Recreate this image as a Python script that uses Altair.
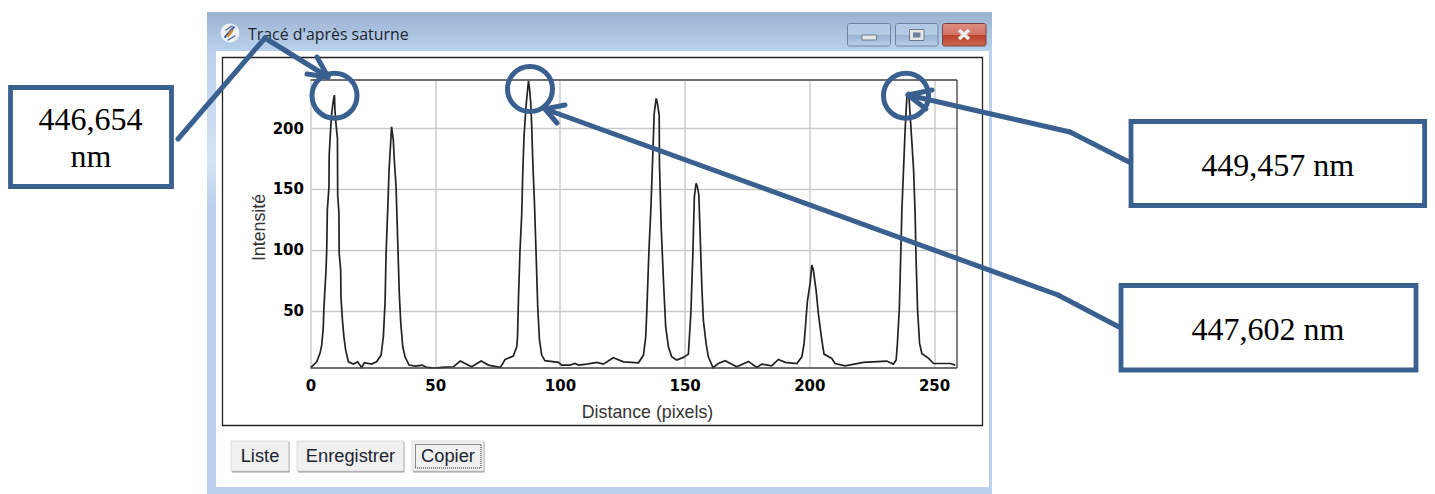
import altair as alt
import pandas as pd

dist = [0.2,2.5,3.8,4.5,5.1,5.4,5.8,6.2,6.5,6.75,7.4,7.5,8.2,8.5,9.2,9.6,9.8,10.2,10.8,10.9,11.4,11.5,12.1,12.2,12.8,13.4,14.1,15.2,17.2,18.9,20.5,21.6,24.5,26.5,28.3,29.2,29.9,30.3,31,31.5,32.2,32.5,33.2,33.6,34.3,35,35.6,36.2,37,37.9,39.5,42,44.8,46.6,50,52.6,57.3,60,64.6,68.4,71.3,76,76.7,78,81.3,82.7,83,83.4,84,84.7,85.1,85.6,86.4,87.1,87.4,87.8,88.3,88.7,89.1,89.8,90.4,91.1,91.8,92.7,94,99.4,100.7,104,106,107.4,110.8,114.8,117.4,121.4,125.5,131.5,133.5,134.4,134.8,135.7,136.5,137.2,137.8,138.6,139.1,139.8,139.9,140.6,141.5,142.4,143.5,144.8,146.8,149.5,151.5,152.5,153.3,153.9,154.6,155.1,155.7,156.2,156.9,157.5,158.6,159.5,161.4,163.5,166.2,170.9,175.6,178.9,180.9,184.9,187.6,190.3,195,197,197.9,199.2,200.3,201,201.6,202.7,203.6,205,205.9,209,210.3,214.3,221.7,231,233.7,234.8,235.3,236.1,236.7,237.1,237.8,238.4,239.1,239.8,240.2,240.8,241.8,242.4,242.8,243.4,244.2,245.1,247.8,249.8,253.8,256.5,258.5]
inten = [3.5,8.1,15,21.8,35.5,53.3,68.3,82,99.8,132.7,151.8,177.8,203.8,212,223,227,214.8,203.8,191.5,145,130,97,83.4,61.5,42.3,28.6,17.7,8.1,6.2,8.1,3.5,7.3,6.2,8.1,13.6,28.6,57.4,97,135.4,165.5,190,201,190,173.7,151.8,105,64,39.6,20.4,12.2,5.4,4.6,5.4,3.5,3,3.5,4,8.7,4,8.7,5.4,3.5,5.4,10,12.8,20.4,28.6,61.5,99.8,130,162.8,192.9,217.5,232.6,238.6,232.6,220.2,201,173.7,138,99.8,53.3,26,13.6,9,7.6,5.4,5.4,6.7,5.4,6.2,7.6,6.2,11.4,8.1,7.3,13.6,28.6,47.8,99.8,135.4,176.4,212,224.3,220.2,210.7,171,119,75.2,36.9,20.4,12.2,9.5,11.7,14.4,47.8,97,143.6,154.6,151.8,145,113.5,69.7,42.3,23.2,12.2,3.2,6.7,9,4,8.4,3.5,6.2,4.8,10,7.6,6.7,12.2,23.2,57.4,72.4,87.5,83.4,67,47.8,25.9,14.4,10.8,6.7,4.8,7.6,8.7,6.2,9.5,23,53,99.8,132.7,168,198.3,225.7,229.8,217.5,198.3,165.5,130,91.6,50.5,23.2,15,10.9,6.7,6.7,6.7,5.4]
x_ticks = [0, 50, 100, 150, 200, 250]
y_ticks = [50, 100, 150, 200]
window_title = "Tracé d'après saturne"
button_labels = ["Liste", "Enregistrer", "Copier"]
x_title = "Distance (pixels)"
y_title = "Intensité"

OX, OY = 310.5, 80
W, H = 646.5, 288
BLUE = "#3a6090"
one = alt.Data(values=[{}])


def X(v):
    return alt.value(v - OX)


def Y(v):
    return alt.value(v - OY)


def grad(stops):
    return alt.Gradient(gradient="linear", x1=0, x2=0, y1=0, y2=1,
                        stops=[alt.GradientStop(offset=o, color=c) for o, c in stops])


def rect(x0, y0, x1, y1, **kw):
    return alt.Chart(one).mark_rect(**kw).encode(x=X(x0), x2=X(x1), y=Y(y0), y2=Y(y1))


def seg(x0, y0, x1, y1, color=BLUE, width=5, cap="round"):
    return alt.Chart(one).mark_rule(color=color, strokeWidth=width, strokeCap=cap).encode(
        x=X(x0), x2=X(x1), y=Y(y0), y2=Y(y1))


def text(s, x, y, **kw):
    return alt.Chart(one).mark_text(text=s, **kw).encode(x=X(x), y=Y(y))


def ring(x, y, d, color=BLUE, width=5):
    return alt.Chart(one).mark_point(shape="circle", filled=False, color=color, strokeWidth=width,
                                     size=d * d, opacity=1).encode(
        x=X(x), y=Y(y), strokeWidth=alt.value(width))


layers = []
# window chrome
title_grad = grad([(0, "#9bb3d1"), (1, "#b9d1ec")])
layers += [
    rect(207, 12, 992, 51, color=title_grad),
    rect(207, 51, 216, 494, color=grad([(0, "#b9d1ec"), (0.25, "#d5e4f4"), (0.35, "#b9d1ec"), (1, "#b9d1ec")])),
    rect(989, 51, 992, 494, color="#b9d1ec"),
    rect(207, 487, 992, 494, color="#b9d1ec"),
    rect(222.5, 57.5, 982.5, 425.5, fill="transparent", stroke="#222222", strokeWidth=1.3),
]
# window buttons
btn_grad = grad([(0, "#b4c9e3"), (0.5, "#b4cbe6"), (0.52, "#97b2d2"), (1, "#b9d0ea")])
close_grad = grad([(0, "#dc8d80"), (0.5, "#d37466"), (0.52, "#bc3f2b"), (1, "#cf6a50")])
layers += [
    rect(847.5, 23.5, 890.5, 46, color=btn_grad, stroke="#6f83a0", strokeWidth=1, cornerRadius=2),
    rect(895.5, 23.5, 938, 46, color=btn_grad, stroke="#6f83a0", strokeWidth=1, cornerRadius=2),
    rect(942.5, 23.5, 986, 46, color=close_grad, stroke="#7a4040", strokeWidth=1, cornerRadius=2),
    rect(862, 35, 876.5, 40, color="#e6e6e6", stroke="#6d7a8c", strokeWidth=1),
    rect(909.5, 29.5, 924, 40.5, color="#e6e6e6", stroke="#6d7a8c", strokeWidth=1),
    rect(913, 32.5, 920.5, 37.5, color="#6d82a0"),
    seg(959, 30, 969, 39, color="#eeeeee", width=3.4, cap="butt"),
    seg(969, 30, 959, 39, color="#eeeeee", width=3.4, cap="butt"),
]
# app icon
layers += [
    alt.Chart(one).mark_point(shape="circle", filled=True, color="#eef2f8", size=360, opacity=1).encode(x=X(230), y=Y(33)),
    seg(225, 37, 234, 27, color="#3f5fa8", width=2),
    seg(228, 36, 232, 31, color="#e08a2a", width=2.4),
    seg(226, 30, 232, 26, color="#55658a", width=1.4),
    seg(228, 40, 235, 36, color="#55658a", width=1.4),
    text(window_title, 248, 35, font="Open Sans", fontSize=15.9, align="left", baseline="middle", color="#1c2430"),
]

# profile plot
profile = pd.DataFrame({"d": dist, "v": inten})
line = alt.Chart(profile).mark_line(color="#222222", strokeWidth=1.7, clip=False).encode(
    x=alt.X("d:Q", scale=alt.Scale(domain=[0, 259.2], nice=False, zero=False),
            axis=alt.Axis(values=x_ticks, title=x_title, grid=True, gridColor="#c9c9c9", gridWidth=1.4,
                          domain=False, ticks=False, labelFont="DejaVu Sans", labelFontWeight="bold",
                          labelFontSize=15, labelColor="#000000", labelPadding=10, labelFlush=False,
                          titleFont="Liberation Sans", titleFontSize=17.8, titleFontWeight="normal",
                          titleColor="#333333", titleX=336.5, titleY=44, titleBaseline="middle")),
    y=alt.Y("v:Q", scale=alt.Scale(domain=[3, 239.4], nice=False, zero=False),
            axis=alt.Axis(values=y_ticks, title=y_title, grid=True, gridColor="#c9c9c9", gridWidth=1.4,
                          domain=False, ticks=False, labelFont="DejaVu Sans", labelFontWeight="bold",
                          labelFontSize=15, labelColor="#000000", labelPadding=7,
                          titleFont="Liberation Sans", titleFontSize=17.8, titleFontWeight="normal",
                          titleColor="#333333", titleX=-51, titleY=147, titleBaseline="middle")),
)
layers.append(line)
layers += [
    seg(310.5, 80, 957, 80, color="#404040", width=1.3, cap="butt"),
    seg(957, 80, 957, 368, color="#404040", width=1.3, cap="butt"),
    seg(310.5, 368, 957, 368, color="#404040", width=1.3, cap="butt"),
]

# dialog buttons
for (x0, x1), label in zip([(231, 289), (297, 404), (412, 484)], button_labels):
    layers += [
        rect(x0 + 1, 442, x1 + 0.5, 472.5, color="#9a9a9a"),
        rect(x0, 441, x1 - 0.5, 471, color="#f0f0f0", stroke="#d8d8d8", strokeWidth=0.8),
        text(label, (x0 + x1) / 2, 456.5, font="Liberation Sans", fontSize=18.3, align="center", baseline="middle", color="#1c2430"),
    ]
layers.append(rect(415.5, 444.5, 481, 468, fill="transparent", stroke="#222222", strokeWidth=1, strokeDash=[1, 1]))

# callouts
for x0, y0, x1, y1 in [(10.5, 87.5, 171.5, 186.5), (1131, 121.5, 1424.6, 205.5), (1121, 285.5, 1416, 370)]:
    layers.append(rect(x0, y0, x1, y1, color="#ffffff", stroke=BLUE, strokeWidth=4.8))
serif = dict(font="Liberation Serif", fontSize=32, align="center", baseline="alphabetic", color="#000000")
layers += [
    text("446,654", 90.5, 130, **serif),
    text("nm", 91, 167, **serif),
    text("449,457 nm", 1277.7, 175.5, **serif),
    text("447,602 nm", 1268, 340, **serif),
    ring(334.5, 95.7, 45),
    ring(530, 89, 45),
    ring(906, 95.7, 45),
    # arrow 1
    seg(178, 139, 265, 38), seg(265, 38, 328, 77), seg(307, 74, 328, 77), seg(317, 57, 328, 77),
    # arrow 2
    seg(1119, 327, 1058, 295), seg(1058, 295, 545, 109), seg(565, 105, 545, 109), seg(557, 123, 545, 109),
    # arrow 3
    seg(1129, 162, 1070, 132), seg(1070, 132, 908, 95), seg(932, 90, 908, 95), seg(926, 109, 908, 95),
]

chart = alt.layer(*layers).properties(
    width=W, height=H,
    background="#ffffff",
    padding={"left": OX - 8, "top": OY - 8, "right": 1419 - (OX - 8) - W, "bottom": 486 - (OY - 8) - H},
    autosize=alt.AutoSizeParams(type="none"),
).configure_view(stroke=None)

chart.save("out.html", embed_options={"renderer": "svg", "actions": False})
